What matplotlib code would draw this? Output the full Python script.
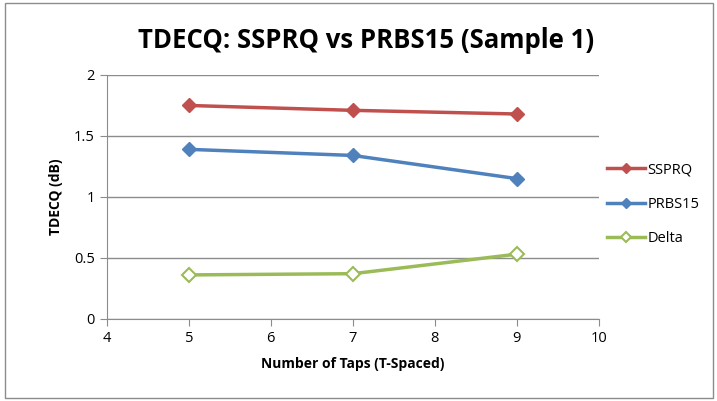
import matplotlib.pyplot as plt
from matplotlib.patches import Rectangle

# Data
taps = [5, 7, 9]
ssprq = [1.75, 1.71, 1.68]
prbs15 = [1.39, 1.34, 1.15]
delta = [0.36, 0.37, 0.53]

plt.rcParams['font.family'] = ['Open Sans', 'DejaVu Sans']

fig = plt.figure(figsize=(7.17, 4.01), dpi=100)
ax = fig.add_axes([0.149, 0.205, 0.686, 0.608])

red = '#C0504D'
blue = '#4F81BD'
green = '#9BBB59'

ax.plot(taps, ssprq, color=red, lw=2.5, marker='D', ms=7, label='SSPRQ')
ax.plot(taps, prbs15, color=blue, lw=2.5, marker='D', ms=7, label='PRBS15')
ax.plot(taps, delta, color=green, lw=2.5, marker='D', ms=7,
        markerfacecolor='white', markeredgewidth=1.5, label='Delta')

ax.set_xlim(4, 10)
ax.set_ylim(0, 2)
ax.set_xticks(range(4, 11))
ax.set_yticks([0, 0.5, 1, 1.5, 2])
ax.set_yticklabels(['0', '0.5', '1', '1.5', '2'])
ax.grid(axis='y', color='#8c8c8c', lw=1)
ax.set_axisbelow(True)
for s in ['top', 'right']:
    ax.spines[s].set_visible(False)
for s in ['left', 'bottom']:
    ax.spines[s].set_color('#8c8c8c')
ax.tick_params(colors='#8c8c8c', labelcolor='black', labelsize=10.5, length=5, direction='out')

ax.set_xlabel('Number of Taps (T-Spaced)', fontsize=10, fontweight='bold', labelpad=8)
ax.set_ylabel('TDECQ (dB)', fontsize=10, fontweight='bold', labelpad=8)
fig.text(0.51, 0.9, 'TDECQ: SSPRQ vs PRBS15 (Sample 1)', ha='center', va='center',
         fontsize=18.5, fontweight='bold')

ax.legend(loc='center left', bbox_to_anchor=(0.99, 0.47), frameon=False,
          fontsize=10.5, handlelength=2.6, labelspacing=1.35, handletextpad=0.2,
          markerscale=0.8)

fig.patches.append(Rectangle((0.007, 0.007), 0.988, 0.985, transform=fig.transFigure,
                             fill=False, edgecolor='#8c8c8c', lw=1))

fig.savefig('out.png', dpi=100)
